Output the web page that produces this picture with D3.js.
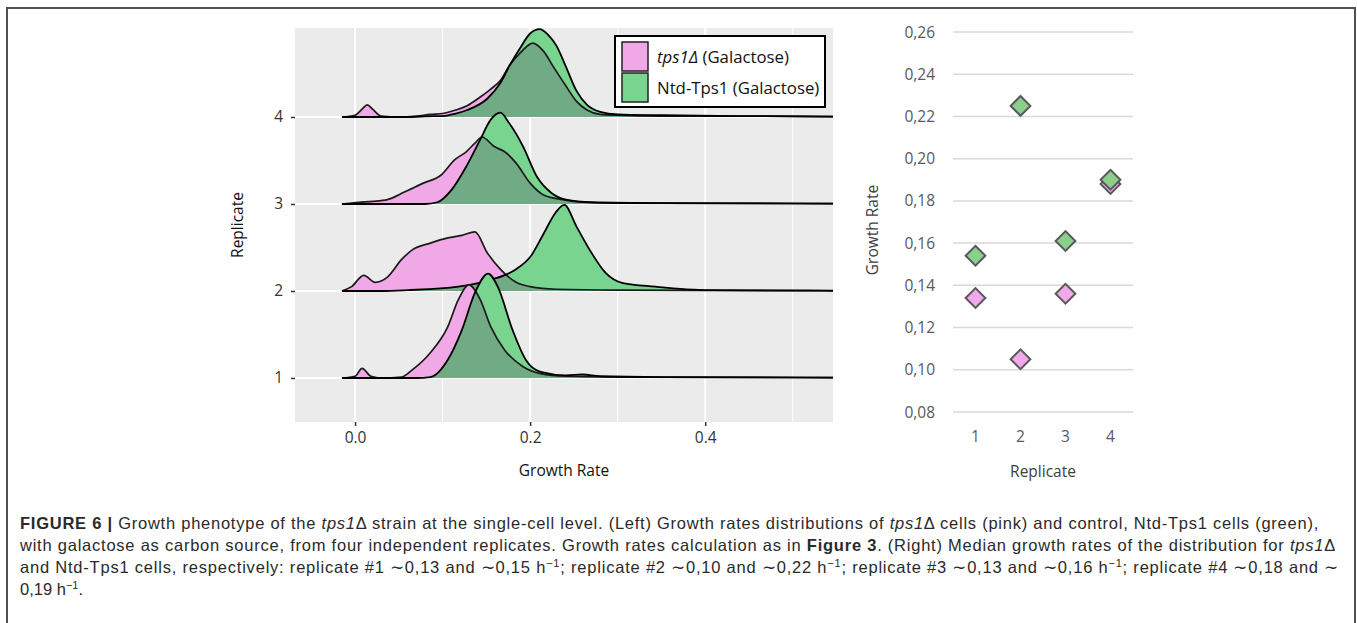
<!DOCTYPE html>
<html lang="en">
<head>
<meta charset="UTF-8"/>
<title>Figure 6 - growth rate distributions</title>
<script src="https://d3js.org/d3.v7.min.js"></script>
<style>
  body { margin: 0; background: #fff; }
  svg { display: block; }
</style>
</head>
<body>
<script>
var w = 1357;
var h = 623;

var replicates = [1, 2, 3, 4];
var xMajor = [0, 0.2, 0.4];
var xMinor = [0.1, 0.3, 0.5];

// ridge densities: [growth rate, density] (1 density unit = one ridge spacing)
var tps1Rep1 = [[-0.015,0],[0.0,0.02],[0.008,0.11],[0.018,0.02],[0.03,0],[0.053,0.01],[0.065,0.09],[0.086,0.29],[0.106,0.59],[0.118,0.9],[0.13,1.07],[0.143,0.9],[0.155,0.59],[0.171,0.32],[0.192,0.13],[0.212,0.05],[0.24,0.02],[0.3,0.01],[0.546,0.005]];
var tps1Rep2 = [[-0.015,0],[-0.004,0.05],[0.01,0.18],[0.023,0.1],[0.037,0.16],[0.053,0.36],[0.065,0.47],[0.086,0.55],[0.106,0.61],[0.122,0.64],[0.137,0.68],[0.151,0.44],[0.167,0.24],[0.184,0.1],[0.2,0.05],[0.23,0.02],[0.3,0.01],[0.546,0.003]];
var tps1Rep3 = [[-0.015,0],[0.004,0.02],[0.02,0.03],[0.037,0.05],[0.057,0.14],[0.078,0.24],[0.098,0.33],[0.114,0.51],[0.127,0.6],[0.137,0.7],[0.145,0.77],[0.159,0.66],[0.171,0.6],[0.184,0.47],[0.2,0.24],[0.216,0.1],[0.237,0.05],[0.26,0.02],[0.3,0.01],[0.546,0.005]];
var tps1Rep4 = [[-0.015,0],[0.0,0.02],[0.008,0.09],[0.014,0.14],[0.02,0.09],[0.03,0.01],[0.05,0],[0.07,0.01],[0.086,0.03],[0.1,0.04],[0.115,0.08],[0.128,0.13],[0.143,0.23],[0.155,0.32],[0.166,0.42],[0.177,0.6],[0.189,0.74],[0.203,0.85],[0.215,0.76],[0.227,0.57],[0.24,0.37],[0.253,0.18],[0.265,0.08],[0.28,0.03],[0.3,0.02],[0.35,0.01],[0.45,0.01],[0.546,0.005]];

var ntdRep1 = [[-0.015,0],[0.07,0],[0.086,0.01],[0.106,0.21],[0.122,0.55],[0.137,0.98],[0.152,1.2],[0.163,1.05],[0.18,0.55],[0.195,0.21],[0.212,0.07],[0.241,0.03],[0.26,0.04],[0.28,0.02],[0.35,0.01],[0.546,0.005]];
var ntdRep2 = [[-0.015,0],[0.03,0],[0.06,0.01],[0.118,0.05],[0.159,0.14],[0.175,0.2],[0.184,0.25],[0.2,0.39],[0.216,0.67],[0.229,0.9],[0.239,0.99],[0.253,0.74],[0.27,0.44],[0.286,0.21],[0.306,0.09],[0.343,0.05],[0.404,0.01],[0.546,0.003]];
var ntdRep3 = [[-0.015,0],[0.06,0],[0.08,0],[0.094,0.02],[0.11,0.16],[0.127,0.43],[0.143,0.74],[0.155,0.97],[0.166,1.05],[0.176,0.93],[0.192,0.66],[0.208,0.31],[0.224,0.13],[0.241,0.05],[0.27,0.02],[0.35,0.01],[0.546,0.005]];
var ntdRep4 = [[-0.015,0],[0.06,0],[0.09,0.01],[0.1,0.01],[0.115,0.04],[0.128,0.08],[0.151,0.21],[0.166,0.39],[0.177,0.6],[0.189,0.8],[0.2,0.96],[0.211,1.01],[0.22,0.95],[0.23,0.82],[0.24,0.6],[0.253,0.3],[0.265,0.14],[0.28,0.06],[0.3,0.03],[0.35,0.02],[0.45,0.01],[0.546,0.005]];

// medians per replicate (right panel)
var tps1Median = [0.134, 0.105, 0.136, 0.188];
var ntdMedian  = [0.154, 0.225, 0.161, 0.190];
var medianTicks = [0.08, 0.10, 0.12, 0.14, 0.16, 0.18, 0.20, 0.22, 0.24, 0.26];

var pink = "#f0a9e6";
var green = "#78d48f";
var overlap = "#70ab86";

var svg = d3.select("body")
            .append("svg")
            .attr("width", w)
            .attr("height", h);

svg.append("rect")
    .attr("x", 7).attr("y", 8)
    .attr("width", 1348).attr("height", 660)
    .attr("fill", "none")
    .attr("stroke", "#505050")
    .attr("stroke-width", 2);

/* ---------- left: ridgeline plot ---------- */
var xScale = d3.scaleLinear()
                .domain([-0.0686, 0.546])
                .range([295, 833]);
var yScale = d3.scaleLinear()
                .domain([0.494, 5.023])
                .range([422, 28]);

svg.append("rect")
    .attr("x", xScale.range()[0]).attr("y", yScale.range()[1])
    .attr("width", xScale.range()[1] - xScale.range()[0])
    .attr("height", yScale.range()[0] - yScale.range()[1])
    .attr("fill", "#ebebeb");

svg.selectAll(".vminor")
    .data(xMinor)
    .enter()
    .append("line")
    .attr("x1", d => xScale(d)).attr("x2", d => xScale(d))
    .attr("y1", 28).attr("y2", 422)
    .attr("stroke", "#fff").attr("stroke-width", 1);

svg.selectAll(".vmajor")
    .data(xMajor)
    .enter()
    .append("line")
    .attr("x1", d => xScale(d)).attr("x2", d => xScale(d))
    .attr("y1", 28).attr("y2", 422)
    .attr("stroke", "#fff").attr("stroke-width", 2);

svg.selectAll(".hmajor")
    .data(replicates)
    .enter()
    .append("line")
    .attr("x1", 295).attr("x2", 833)
    .attr("y1", d => yScale(d)).attr("y2", d => yScale(d))
    .attr("stroke", "#fff").attr("stroke-width", 2);

var tps1Sets = [tps1Rep1, tps1Rep2, tps1Rep3, tps1Rep4];
var ntdSets = [ntdRep1, ntdRep2, ntdRep3, ntdRep4];

function ridgeArea(r) {
    return d3.area()
        .x(d => xScale(d[0]))
        .y0(yScale(r))
        .y1(d => yScale(r + d[1]))
        .curve(d3.curveMonotoneX);
}
function ridgeLine(r) {
    return d3.line()
        .x(d => xScale(d[0]))
        .y(d => yScale(r + d[1]))
        .curve(d3.curveMonotoneX);
}

var defs = svg.append("defs");

// top ridge first so lower ridges overlap it
[4, 3, 2, 1].forEach(function(r) {
    var pk = tps1Sets[r - 1];
    var gr = ntdSets[r - 1];
    var g = svg.append("g");

    defs.append("clipPath")
        .attr("id", "clip" + r)
        .append("path")
        .attr("d", ridgeArea(r)(pk));

    g.append("path").attr("d", ridgeArea(r)(pk)).attr("fill", pink);
    g.append("path").attr("d", ridgeArea(r)(gr)).attr("fill", green);
    g.append("path").attr("d", ridgeArea(r)(gr)).attr("fill", overlap)
        .attr("clip-path", "url(#clip" + r + ")");
    g.append("path").attr("d", ridgeLine(r)(pk))
        .attr("fill", "none").attr("stroke", "#1a1a1a").attr("stroke-width", 1.7);
    g.append("path").attr("d", ridgeLine(r)(gr))
        .attr("fill", "none").attr("stroke", "#000").attr("stroke-width", 1.8);
});

var xAxis = svg.append("g")
    .attr("transform", "translate(0,422)")
    .call(d3.axisBottom(xScale).tickValues(xMajor).tickFormat(d3.format(".1f")).tickSize(4).tickPadding(6));
xAxis.select(".domain").remove();
xAxis.selectAll("line").attr("stroke", "#333").attr("stroke-width", 1.5);
xAxis.selectAll("text").attr("font-family", "Open Sans").attr("font-size", "15.5px").attr("fill", "#333");

var yAxis = svg.append("g")
    .attr("transform", "translate(295,0)")
    .call(d3.axisLeft(yScale).tickValues(replicates).tickFormat(d3.format("d")).tickSize(4).tickPadding(8));
yAxis.select(".domain").remove();
yAxis.selectAll("line").attr("stroke", "#333").attr("stroke-width", 1.5);
yAxis.selectAll("text").attr("font-family", "Open Sans").attr("font-size", "15.5px").attr("fill", "#333");

svg.append("text")
    .text("Growth Rate")
    .attr("x", 564).attr("y", 476)
    .attr("text-anchor", "middle")
    .attr("font-family", "Open Sans").attr("font-size", "15.5px").attr("fill", "#111");

svg.append("text")
    .text("Replicate")
    .attr("transform", "translate(243,225) rotate(-90)")
    .attr("text-anchor", "middle")
    .attr("font-family", "Open Sans").attr("font-size", "15.5px").attr("fill", "#111");

/* legend */
var legend = svg.append("g");
legend.append("rect")
    .attr("x", 615).attr("y", 36).attr("width", 210).attr("height", 71)
    .attr("fill", "#fff").attr("stroke", "#000").attr("stroke-width", 2);
var legendItems = [
    {fill: pink, parts: [["tps1Δ", "italic"], [" (Galactose)", "normal"]]},
    {fill: green, parts: [["Ntd-Tps1 (Galactose)", "normal"]]}
];
legendItems.forEach(function(it, i) {
    legend.append("rect")
        .attr("x", 622).attr("y", 42 + i * 31)
        .attr("width", 26).attr("height", 29)
        .attr("fill", it.fill).attr("stroke", "#222").attr("stroke-width", 1.5);
    var t = legend.append("text")
        .attr("x", 657).attr("y", 63 + i * 31)
        .attr("font-family", "Open Sans").attr("font-size", "16.8px").attr("fill", "#111");
    it.parts.forEach(function(p) {
        t.append("tspan").text(p[0]).attr("font-style", p[1]);
    });
});

/* ---------- right: medians ---------- */
var sx = d3.scaleBand()
            .domain(replicates)
            .range([953, 1133]);
var sy = d3.scaleLinear()
            .domain([0.08, 0.26])
            .range([412, 32]);

svg.selectAll(".sgrid")
    .data(medianTicks)
    .enter()
    .append("line")
    .attr("x1", 953).attr("x2", 1133)
    .attr("y1", d => sy(d)).attr("y2", d => sy(d))
    .attr("stroke", "#d9d9d9").attr("stroke-width", 1.5);

var fmtComma = function(d) { return d3.format(".2f")(d).replace(".", ","); };

svg.selectAll(".sylab")
    .data(medianTicks)
    .enter()
    .append("text")
    .text(fmtComma)
    .attr("x", 935).attr("y", d => sy(d) + 5.5)
    .attr("text-anchor", "end")
    .attr("font-family", "Open Sans").attr("font-size", "15.5px").attr("fill", "#595959");

svg.selectAll(".sxlab")
    .data(replicates)
    .enter()
    .append("text")
    .text(d => d)
    .attr("x", d => sx(d) + sx.bandwidth() / 2).attr("y", 442)
    .attr("text-anchor", "middle")
    .attr("font-family", "Open Sans").attr("font-size", "15.5px").attr("fill", "#595959");

svg.append("text")
    .text("Replicate")
    .attr("x", 1043).attr("y", 477)
    .attr("text-anchor", "middle")
    .attr("font-family", "Open Sans").attr("font-size", "15.5px").attr("fill", "#404040");

svg.append("text")
    .text("Growth Rate")
    .attr("transform", "translate(878,230) rotate(-90)")
    .attr("text-anchor", "middle")
    .attr("font-family", "Open Sans").attr("font-size", "15.5px").attr("fill", "#404040");

var diamond = d3.symbol().type(d3.symbolSquare).size(195);
[[tps1Median, "#f2a8ec"], [ntdMedian, "#8ccf8c"]].forEach(function(s) {
    svg.selectAll(null)
        .data(s[0])
        .enter()
        .append("path")
        .attr("d", diamond)
        .attr("transform", (d, i) => "translate(" + (sx(replicates[i]) + sx.bandwidth() / 2) + "," + sy(d) + ") rotate(45)")
        .attr("fill", s[1])
        .attr("stroke", "#595959")
        .attr("stroke-width", 2);
});

/* ---------- caption ---------- */
var capLines = [
    [["FIGURE 6 | ", "b"], ["Growth phenotype of the ", ""], ["tps1", "i"], ["Δ strain at the single-cell level. (Left) Growth rates distributions of ", ""], ["tps1", "i"], ["Δ cells (pink) and control, Ntd-Tps1 cells (green),", ""]],
    [["with galactose as carbon source, from four independent replicates. Growth rates calculation as in ", ""], ["Figure 3", "b"], [". (Right) Median growth rates of the distribution for ", ""], ["tps1", "i"], ["Δ", ""]],
    [["and Ntd-Tps1 cells, respectively: replicate #1 ∼0,13 and ∼0,15 h", ""], ["−1", "s"], ["; replicate #2 ∼0,10 and ∼0,22 h", ""], ["−1", "s"], ["; replicate #3 ∼0,13 and ∼0,16 h", ""], ["−1", "s"], ["; replicate #4 ∼0,18 and ∼", ""]],
    [["0,19 h", ""], ["−1", "s"], [".", ""]]
];
var capRight = [1319, 1336, 1339, null];

capLines.forEach(function(line, li) {
    var t = svg.append("text")
        .attr("x", 20).attr("y", 529 + li * 22)
        .attr("font-family", "Liberation Sans, Arial, sans-serif")
        .attr("font-size", "16.5px")
        .attr("fill", "#2a2a2a");
    var prevSup = false;
    line.forEach(function(p) {
        var ts = t.append("tspan").text(p[0]);
        if (p[1] === "b") ts.attr("font-weight", "bold");
        if (p[1] === "i") ts.attr("font-style", "italic");
        if (p[1] === "s") { ts.attr("font-size", "11px").attr("dy", -6); prevSup = true; }
        else if (prevSup) { ts.attr("dy", 6); prevSup = false; }
    });
    if (capRight[li]) {
        var full = line.map(p => p[0]).join("");
        var len = t.node().getComputedTextLength();
        var extra = (capRight[li] - 20 - len) / full.length;
        t.attr("letter-spacing", extra);
    }
});
</script>
</body>
</html>
